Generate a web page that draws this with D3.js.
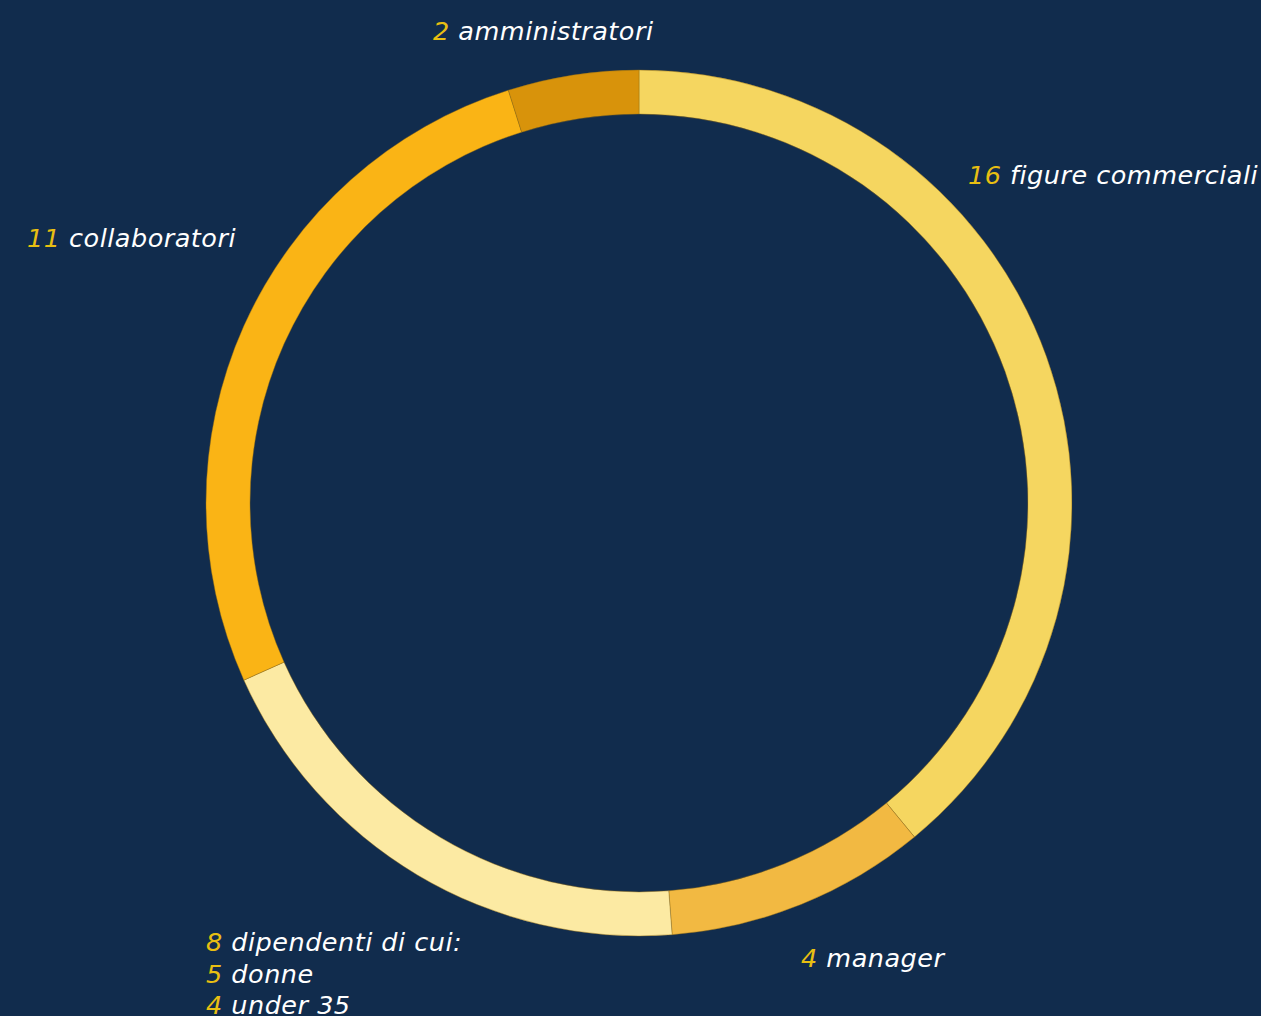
<!DOCTYPE html>
<html><head><meta charset="utf-8">
<script src="https://cdn.jsdelivr.net/npm/d3@7"></script>
<style>
html,body{margin:0;padding:0;background:#112c4d;overflow:hidden;}
svg{display:block;}
text{font-family:"DejaVu Sans",sans-serif;font-style:italic;font-size:25.5px;letter-spacing:0.5px;fill:#ffffff;}
.num{fill:#e8bf12;}
</style></head>
<body>
<svg id="chart" width="1261" height="1016"></svg>
<script>
const categories = ["figure commerciali", "manager", "dipendenti", "collaboratori", "amministratori"];
const values = [16, 4, 8, 11, 2];
const colors = ["#f5d660", "#f2b942", "#fceaa3", "#fab415", "#d8930b"];
const labelLines = [
  [["16", "figure commerciali"]],
  [["4", "manager"]],
  [["8", "dipendenti di cui:"], ["5", "donne"], ["4", "under 35"]],
  [["11", "collaboratori"]],
  [["2", "amministratori"]]
];
// label anchor positions (layout)
const labelPos = [[968,184],[801,967],[206,951],[27,247],[433,40]];

const W = 1261, H = 1016;
const cx = 639, cy = 503, rOuter = 433, rInner = 389;
const svg = d3.select("#chart");
const g = svg.append("g").attr("transform", `translate(${cx},${cy})`);
const pie = d3.pie().sort(null).value(d => d)(values);
const arc = d3.arc().innerRadius(rInner).outerRadius(rOuter);
g.selectAll("path").data(pie).enter().append("path")
  .attr("d", arc)
  .attr("fill", (d,i) => colors[i])
  .attr("stroke", "rgba(150,110,20,0.55)")
  .attr("stroke-width", 0.8);

const lg = svg.append("g");
labelLines.forEach((lines, i) => {
  lines.forEach((ln, j) => {
    const t = lg.append("text")
      .attr("x", labelPos[i][0])
      .attr("y", labelPos[i][1] + j * 31.5);
    t.append("tspan").attr("class","num").text(ln[0]);
    t.append("tspan").text(" " + ln[1]);
  });
});
</script>
</body></html>
